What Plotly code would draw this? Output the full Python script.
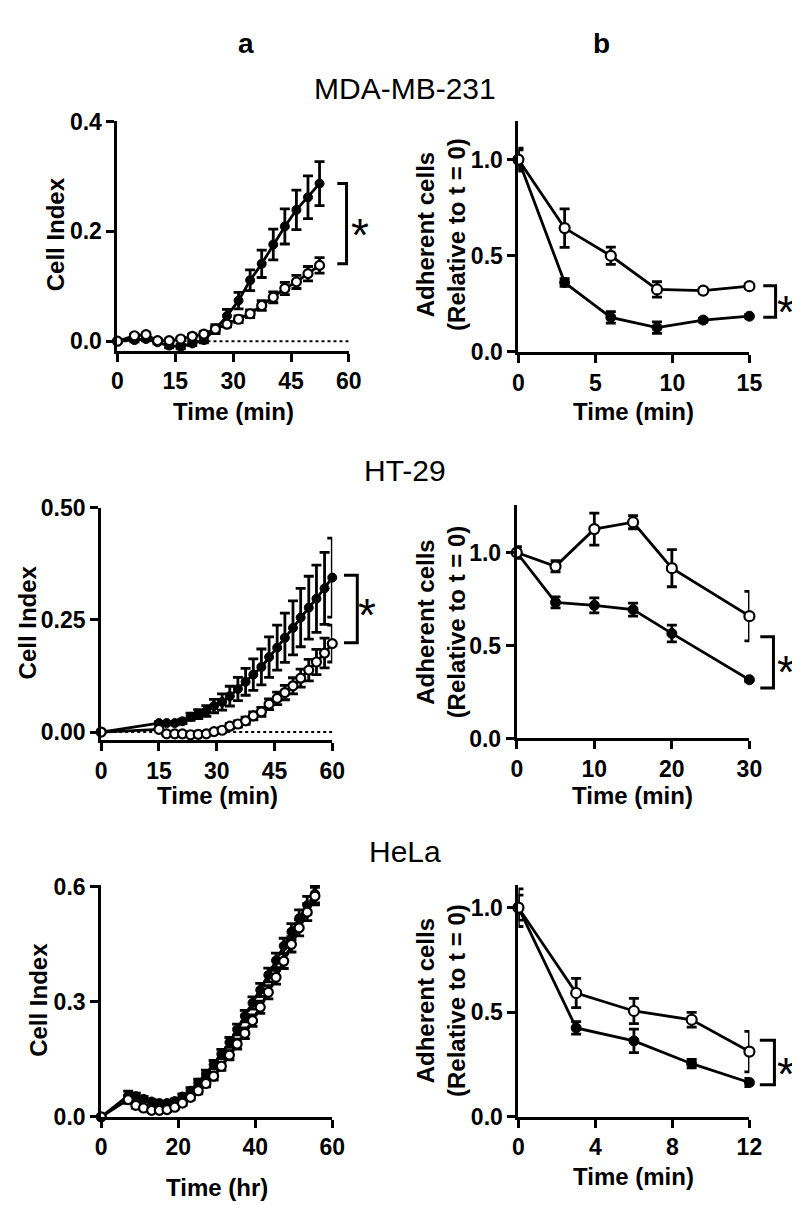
import plotly.graph_objects as go

FONT = "Arial, Liberation Sans, Helvetica, sans-serif"
W, H = 800, 1205

# ---------------- data ----------------
# MDA-MB-231 (a) Cell Index vs time (min)
mda_a_t = [0, 4.4, 7.4, 10.4, 13.4, 16.4, 19.4, 22.4, 25.4, 28.4, 31.4, 34.4, 37.4, 40.4, 43.4, 46.4, 49.4, 52.4]
mda_a_filled = [0.000, 0.002, 0.004, -0.002, -0.008, -0.010, -0.004, 0.002, 0.022, 0.046, 0.074, 0.111, 0.141, 0.176, 0.209, 0.239, 0.262, 0.287]
mda_a_filled_err = [0.002, 0.003, 0.003, 0.003, 0.004, 0.004, 0.004, 0.005, 0.008, 0.012, 0.015, 0.019, 0.025, 0.028, 0.032, 0.036, 0.039, 0.040]
mda_a_open = [0.000, 0.010, 0.012, 0.001, 0.001, 0.004, 0.009, 0.013, 0.022, 0.031, 0.040, 0.050, 0.065, 0.080, 0.096, 0.108, 0.123, 0.138]
mda_a_open_err = [0.002, 0.003, 0.003, 0.003, 0.003, 0.003, 0.004, 0.004, 0.005, 0.005, 0.006, 0.007, 0.009, 0.010, 0.011, 0.012, 0.013, 0.014]

# MDA-MB-231 (b) adherent cells
mda_b_t = [0, 3, 6, 9, 12, 15]
mda_b_open = [1.0, 0.644, 0.50, 0.325, 0.319, 0.342]
mda_b_open_err = [0.06, 0.10, 0.045, 0.04, 0.012, 0.012]
mda_b_filled = [1.0, 0.361, 0.18, 0.127, 0.166, 0.186]
mda_b_filled_err = [0.05, 0.02, 0.03, 0.03, 0.01, 0.01]

# HT-29 (a)
ht_a_t = [0, 15, 17, 19.1, 21.1, 23.2, 25.2, 27.3, 29.3, 31.4, 33.4, 35.5, 37.5, 39.5, 41.6, 43.6, 45.7, 47.7, 49.8, 51.8, 53.9, 55.9, 58, 60]
ht_a_filled = [0, 0.020, 0.020, 0.020, 0.024, 0.034, 0.040, 0.047, 0.058, 0.067, 0.080, 0.096, 0.112, 0.128, 0.145, 0.167, 0.188, 0.210, 0.232, 0.255, 0.277, 0.297, 0.320, 0.344]
ht_a_filled_err = [0.002, 0.003, 0.003, 0.004, 0.005, 0.008, 0.010, 0.012, 0.015, 0.018, 0.022, 0.026, 0.030, 0.035, 0.040, 0.045, 0.050, 0.055, 0.060, 0.065, 0.070, 0.075, 0.080, 0.088]
ht_a_open = [0, 0.006, -0.004, -0.004, -0.004, -0.006, -0.005, -0.004, 0.001, 0.004, 0.013, 0.018, 0.025, 0.036, 0.045, 0.062, 0.075, 0.088, 0.103, 0.120, 0.138, 0.156, 0.176, 0.197]
ht_a_open_err = [0.002, 0.003, 0.003, 0.003, 0.003, 0.003, 0.003, 0.004, 0.004, 0.005, 0.006, 0.007, 0.008, 0.009, 0.010, 0.012, 0.014, 0.016, 0.018, 0.020, 0.024, 0.028, 0.033, 0.041]

# HT-29 (b)
ht_b_t = [0, 5, 10, 15, 20, 30]
ht_b_open = [1.0, 0.926, 1.126, 1.163, 0.916, 0.658]
ht_b_open_err = [0.03, 0.03, 0.086, 0.035, 0.10, 0.133]
ht_b_filled = [1.0, 0.732, 0.716, 0.693, 0.565, 0.316]
ht_b_filled_err = [0.03, 0.03, 0.04, 0.035, 0.045, 0.01]

# HeLa (a) time in hr
hela_a_t = [0, 7, 9, 11, 13.1, 15.1, 17.1, 19.1, 21.1, 23.2, 25.2, 27.2, 29.2, 31.2, 33.3, 35.3, 37.3, 39.3, 41.3, 43.4, 45.4, 47.4, 49.4, 51.4, 53.5, 55.5]
hela_a_filled = [0, 0.055, 0.054, 0.047, 0.040, 0.036, 0.036, 0.041, 0.053, 0.068, 0.089, 0.112, 0.136, 0.164, 0.194, 0.228, 0.263, 0.297, 0.331, 0.370, 0.408, 0.446, 0.483, 0.518, 0.552, 0.582]
hela_a_filled_err = [0.003, 0.012, 0.008, 0.006, 0.005, 0.005, 0.005, 0.006, 0.007, 0.008, 0.009, 0.010, 0.011, 0.012, 0.013, 0.014, 0.015, 0.016, 0.017, 0.018, 0.019, 0.020, 0.021, 0.022, 0.023, 0.024]
hela_a_open = [0, 0.045, 0.030, 0.023, 0.017, 0.017, 0.019, 0.025, 0.036, 0.051, 0.068, 0.087, 0.106, 0.132, 0.161, 0.190, 0.218, 0.251, 0.286, 0.325, 0.364, 0.406, 0.450, 0.493, 0.534, 0.576]
hela_a_open_err = [0.003, 0.010, 0.007, 0.005, 0.005, 0.005, 0.005, 0.005, 0.006, 0.007, 0.008, 0.009, 0.010, 0.011, 0.012, 0.013, 0.014, 0.015, 0.016, 0.017, 0.018, 0.019, 0.020, 0.021, 0.022, 0.023]

# HeLa (b)
hela_b_t = [0, 3, 6, 9, 12]
hela_b_open = [1.0, 0.592, 0.506, 0.464, 0.312]
hela_b_open_err = [0.09, 0.07, 0.06, 0.035, 0.097]
hela_b_filled = [1.0, 0.425, 0.363, 0.254, 0.164]
hela_b_filled_err = [0.06, 0.03, 0.056, 0.02, 0.02]

# ---------------- layout (pixel boxes) ----------------
panels = [
    dict(t=mda_a_t, f=mda_a_filled, fe=mda_a_filled_err, o=mda_a_open, oe=mda_a_open_err,
         box=(106, 343, 102.7, 337), xr=[0, 60], yr=[-0.0173, 0.4], xt=[0, 15, 30, 45, 60], yt=[0, 0.2, 0.4], fmt=".1f", ms=9, dotted=True,
         br=dict(x0=57.0, x1=59.4, y0=0.141, y1=0.287, sx=63.0, sy=0.2125)),
    dict(t=mda_b_t, f=mda_b_filled, fe=mda_b_filled_err, o=mda_b_open, oe=mda_b_open_err,
         box=(516.7, 753.3, 101.7, 338.3), xr=[0, 15], yr=[0, 1.203], xt=[0, 5, 10, 15], yt=[0, 0.5, 1.0], fmt=".1f", ms=10, dotted=False,
         br=dict(x0=15.9, x1=16.7, y0=0.18, y1=0.344, sx=17.35, sy=0.261)),
    dict(t=ht_a_t, f=ht_a_filled, fe=ht_a_filled_err, o=ht_a_open, oe=ht_a_open_err,
         box=(89.3, 326, 497.3, 735), xr=[0, 60], yr=[-0.018, 0.5], xt=[0, 15, 30, 45, 60], yt=[0, 0.25, 0.5], fmt=".2f", ms=9, dotted=True,
         br=dict(x0=63.05, x1=66.5, y0=0.199, y1=0.349, sx=69.1, sy=0.283)),
    dict(t=ht_b_t, f=ht_b_filled, fe=ht_b_filled_err, o=ht_b_open, oe=ht_b_open_err,
         box=(515, 753.3, 495, 733.3), xr=[0, 30], yr=[0, 1.254], xt=[0, 10, 20, 30], yt=[0, 0.5, 1.0], fmt=".1f", ms=10, dotted=False,
         br=dict(x0=31.4, x1=33.1, y0=0.272, y1=0.547, sx=34.7, sy=0.412)),
    dict(t=hela_a_t, f=hela_a_filled, fe=hela_a_filled_err, o=hela_a_open, oe=hela_a_open_err,
         box=(89.3, 326, 883, 1120), xr=[0, 60], yr=[0, 0.605], xt=[0, 20, 40, 60], yt=[0, 0.3, 0.6], fmt=".1f", ms=9, dotted=False,
         br=None),
    dict(t=hela_b_t, f=hela_b_filled, fe=hela_b_filled_err, o=hela_b_open, oe=hela_b_open_err,
         box=(516.7, 753.3, 882.7, 1120), xr=[0, 12], yr=[0, 1.11], xt=[0, 4, 8, 12], yt=[0, 0.5, 1.0], fmt=".1f", ms=10, dotted=False,
         br=dict(x0=12.54, x1=13.3, y0=0.153, y1=0.366, sx=13.88, sy=0.252)),
]

fig = go.Figure()
layout = dict(width=W, height=H, margin=dict(l=0, r=0, t=0, b=0),
              paper_bgcolor="white", plot_bgcolor="white", showlegend=False,
              font=dict(family=FONT, color="black"))
shapes = []
annotations = []

tickfont = dict(family=FONT, size=23, color="black", weight="bold")
STAR_SIZE = 46

for i, p in enumerate(panels, start=1):
    xa = "x" if i == 1 else f"x{i}"
    ya = "y" if i == 1 else f"y{i}"
    l, r, t, b = p["box"]
    xdom = [l / W, r / W]
    ydom = [1 - b / H, 1 - t / H]
    axcommon = dict(showgrid=False, zeroline=False, showline=True, linecolor="black", linewidth=3,
                    ticks="outside", ticklen=8, tickwidth=3, tickcolor="black", tickfont=tickfont,
                    fixedrange=True)
    layout["xaxis" if i == 1 else f"xaxis{i}"] = dict(domain=xdom, range=p["xr"], tickvals=p["xt"],
                                                      anchor=ya, **axcommon)
    layout["yaxis" if i == 1 else f"yaxis{i}"] = dict(domain=ydom, range=p["yr"], tickvals=p["yt"],
                                                      tickformat=p["fmt"], anchor=xa, **axcommon)
    if p["dotted"]:
        fig.add_trace(go.Scatter(x=[p["xr"][0], p["xr"][1]], y=[0, 0], mode="lines",
                                 line=dict(color="black", width=2, dash="dot"),
                                 xaxis=xa, yaxis=ya, hoverinfo="skip"))
    fig.add_trace(go.Scatter(x=p["t"], y=p["f"], mode="lines+markers",
                             line=dict(color="black", width=2.8),
                             marker=dict(symbol="circle", size=p["ms"], color="black",
                                         line=dict(color="black", width=1)),
                             error_y=dict(type="data", array=p["fe"], color="black", thickness=2.8, width=5),
                             cliponaxis=False, xaxis=xa, yaxis=ya))
    fig.add_trace(go.Scatter(x=p["t"], y=p["o"], mode="lines+markers",
                             line=dict(color="black", width=2.8),
                             marker=dict(symbol="circle", size=p["ms"], color="white",
                                         line=dict(color="black", width=2.2)),
                             error_y=dict(type="data", array=p["oe"], color="black", thickness=2.8, width=5),
                             cliponaxis=False, xaxis=xa, yaxis=ya))
    br = p["br"]
    if br:
        x0, x1 = p["xr"]
        y0, y1 = p["yr"]
        fx = lambda v: (v - x0) / (x1 - x0)
        fy = lambda v: (v - y0) / (y1 - y0)
        path = (f"M {fx(br['x0'])} {fy(br['y1'])} L {fx(br['x1'])} {fy(br['y1'])} "
                f"L {fx(br['x1'])} {fy(br['y0'])} L {fx(br['x0'])} {fy(br['y0'])}")
        shapes.append(dict(type="path", path=path, xref=f"{xa} domain", yref=f"{ya} domain",
                           line=dict(color="black", width=3)))
        annotations.append(dict(text="*", x=fx(br["sx"]), y=fy(br["sy"]),
                                xref=f"{xa} domain", yref=f"{ya} domain",
                                showarrow=False, xanchor="center", yanchor="middle",
                                yshift=-0.22 * STAR_SIZE,
                                font=dict(family=FONT, size=STAR_SIZE, color="black")))


def ann(text, x, y, size, bold=False, angle=0):
    annotations.append(dict(text=text, x=x / W, y=1 - y / H, xref="paper", yref="paper",
                            showarrow=False, xanchor="center", yanchor="middle", textangle=angle,
                            font=dict(family=FONT, size=size, color="black",
                                      weight="bold" if bold else "normal")))


# panel letters and cell line titles
ann("a", 238, 23, 28, bold=True)
ann("b", 602, 23, 28, bold=True)
ann("MDA-MB-231", 400, 69, 30)
ann("HT-29", 400, 459, 30)
ann("HeLa", 400, 849, 30)

# axis titles
ann("Cell Index", 42, 218, 24, bold=True, angle=-90)
ann("Cell Index", 14, 615, 24, bold=True, angle=-90)
ann("Cell Index", 25, 1000, 24, bold=True, angle=-90)
adh = "Adherent cells<br>(Relative to t = 0)"
ann(adh, 438, 218, 24, bold=True, angle=-90)
ann(adh, 437, 614, 24, bold=True, angle=-90)
ann(adh, 438, 1001, 24, bold=True, angle=-90)

ann("Time (min)", 224.5, 399, 24, bold=True)
ann("Time (min)", 635, 399, 24, bold=True)
ann("Time (min)", 208, 792, 24, bold=True)
ann("Time (min)", 634, 792, 24, bold=True)
ann("Time (hr)", 208, 1192, 24, bold=True)
ann("Time (min)", 635, 1181, 24, bold=True)

layout["shapes"] = shapes
layout["annotations"] = annotations
fig.update_layout(**layout)
fig.write_html("out.html")
